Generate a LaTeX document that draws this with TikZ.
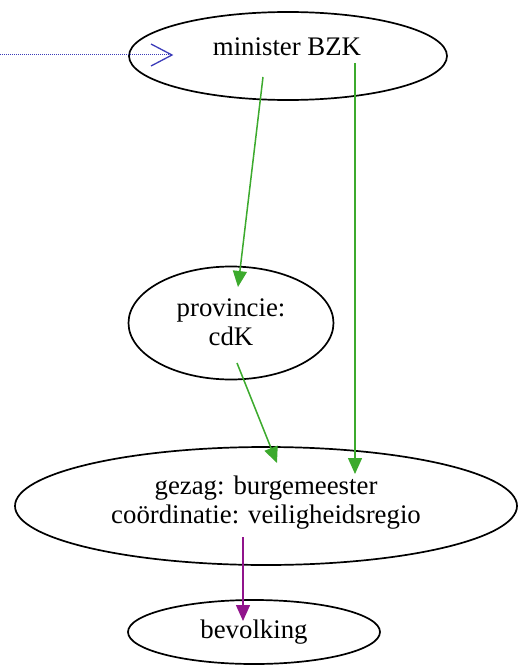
\documentclass[tikz,border=0pt]{standalone}
\usepackage{fontspec}
\setmainfont{Liberation Serif}
\usetikzlibrary{arrows.meta,shapes.geometric}

\definecolor{bzkgreen}{RGB}{60,170,45}
\definecolor{bzkblue}{RGB}{60,60,185}
\definecolor{bzkpurple}{RGB}{145,20,140}

\begin{document}
\begin{tikzpicture}[x=1pt, y=-1pt,
        every node/.style={font=\fontsize{26.8}{29}\selectfont, align=center},
        actor/.style={draw, ellipse, line width=1.7pt, inner sep=0pt},
        order/.style={draw=bzkgreen, line width=1.5pt, -{Triangle[length=16pt,width=14pt]}},
        reach/.style={draw=bzkpurple, line width=1.5pt, -{Triangle[length=16pt,width=14pt]}},
        input/.style={draw=bzkblue, line width=1pt, dash pattern=on 1pt off 1pt},
    ]
        \useasboundingbox (0,0) rectangle (523,666);
        % nodes
        \node[actor, minimum width=318pt, minimum height=88pt] (minister) at (288,56) {};
        \node (ministertext) at (287,47) {minister BZK};
        \node[actor, minimum width=205pt, minimum height=113pt] (provincie) at (231,323) {};
        \node (provincietext) at (231,322) {provincie:\\cdK};
        \node[actor, minimum width=502pt, minimum height=118pt] (regio) at (266,506) {};
        \node (regiotext) at (266,503) {gezag: burgemeester\\coördinatie: veiligheidsregio};
        \node[actor, minimum width=252pt, minimum height=64pt] (bevolking) at (254,632) {};
        \node (bevolkingtext) at (254,632) {bevolking};
        % connector ends
        \coordinate (in) at (0,55);
        \coordinate (m1) at (263,77);
        \coordinate (m2) at (355,63);
        \coordinate (p1) at (238,287);
        \coordinate (p2) at (237,363);
        \coordinate (r1) at (277,463);
        \coordinate (r2) at (355,474);
        \coordinate (r3) at (243,537);
        \coordinate (b1) at (243,621);
        \coordinate (tip) at (172,55);
        % connectors
        \draw[input] (in) -- (tip);
        \draw[bzkblue, line width=1.3pt, line join=miter] ([shift={(-21,-11)}]tip) -- (tip) -- ([shift={(-21,11)}]tip);
        \draw[order] (m1) -- (p1);
        \draw[order] (m2) -- (r2);
        \draw[order] (p2) -- (r1);
        \draw[reach] (r3) -- (b1);
\end{tikzpicture}
\end{document}
